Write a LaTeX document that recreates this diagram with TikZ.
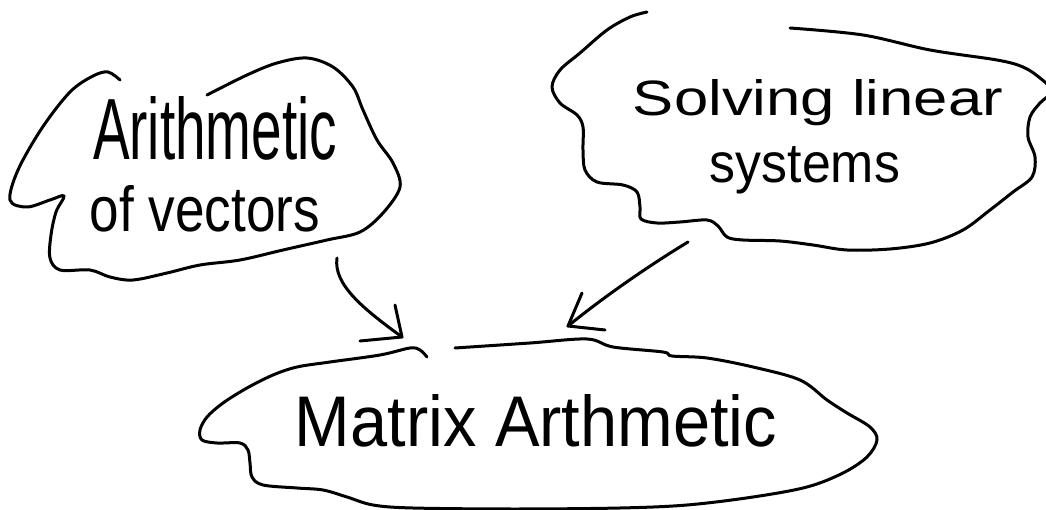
\documentclass[tikz,border=0pt]{standalone}
\usepackage{fontspec}
\setmainfont{Liberation Sans}
\usepackage{graphicx}
\tikzset{
  ink/.style={line width=3pt, line cap=round, line join=round, draw=black},
  hw/.style={inner sep=0pt, outer sep=0pt, anchor=base, font=\fontsize{10}{12}\selectfont},
  blob/.style={ink, smooth, tension=0.55}
}
\begin{document}
\begin{tikzpicture}[x=1pt, y=-1pt]
\clip (0,0) rectangle (1046,510);
\fill[white] (0,0) rectangle (1046,510);

% --- Arithmetic of vectors blob ---
\draw[ink] plot[smooth, tension=0.55] coordinates {
 (120,80) (108,72) (93,76) (70,92) (42,128) (18,170) (10,200) (27,207) (50,200) (64,196)
 (56,212) (51,235) (50,258) (60,270) (90,270) (110,277) (133,280) (167,273) (200,265)
 (240,260) (283,250) (327,240) (360,232) (383,213) (400,187) (393,163) (377,140)
 (363,110) (353,87) (333,67) (307,58) (277,63) (247,75) (207,95)};

% --- Solving linear systems blob ---
\draw[ink] plot[smooth, tension=0.55] coordinates {
 (647,12) (630,17) (607,30) (580,53) (560,70) (552,87) (560,103) (577,115) (583,127)
 (583,150) (585,170) (597,182) (623,185) (637,192) (640,207) (641,219) (657,223)
 (680,222) (707,220) (718,226) (727,237) (743,240) (780,241) (813,245) (847,250)
 (890,249) (930,243) (963,230) (990,210) (1013,192) (1032,177) (1035,157) (1028,137)
 (1030,117) (1040,103) (1052,91) (1040,78) (1023,67) (997,60) (930,50) (863,35) (790,28)};

% --- Matrix Arthmetic blob ---
\draw[ink] plot[smooth, tension=0.55] coordinates {
 (427,357) (420,350) (410,348) (380,355) (330,362) (297,367) (273,375) (247,388)
 (223,403) (207,417) (200,430) (202,440) (217,443) (240,443) (248,450) (250,463)
 (252,477) (263,485) (297,488) (323,490) (347,497) (373,505) (413,508) (515,509)
 (620,508) (687,505) (753,497) (807,487) (843,473) (867,457) (877,440) (870,427)
 (847,413) (827,400) (800,380) (753,367) (707,358) (672,356) (663,352) (613,347)
 (587,339) (530,343) (455,348)};

% --- texts ---
\node[hw] (arith) at (215,160) {\resizebox{244pt}{63pt}{Arithmetic}};
\node[hw] (ofvec) at (205,232) {\resizebox{230pt}{46pt}{of vectors}};
\node[hw] (solving) at (818,116) {\resizebox{370pt}{36pt}{Solving linear}};
\node[hw] (systems) at (805,183) {\resizebox{190pt}{36pt}{systems}};
\node[hw] (matrix) at (536,446) {\resizebox{482pt}{52pt}{Matrix Arthmetic}};

% --- connectors ---
\coordinate (avOut) at (337,258);
\coordinate (maInL) at (402,337);
\coordinate (slOut) at (688,242);
\coordinate (maInR) at (568,326);

\draw[ink] (avOut) .. controls (333,285) and (365,310) .. (maInL);
\draw[ink] (maInL) ++(-7,-32) -- (maInL) -- ++(-42,4);

\draw[ink] (slOut) .. controls (655,262) and (610,292) .. (maInR);
\draw[ink] (maInR) ++(14,-33) -- (maInR) -- ++(37,4);
\end{tikzpicture}
\end{document}
